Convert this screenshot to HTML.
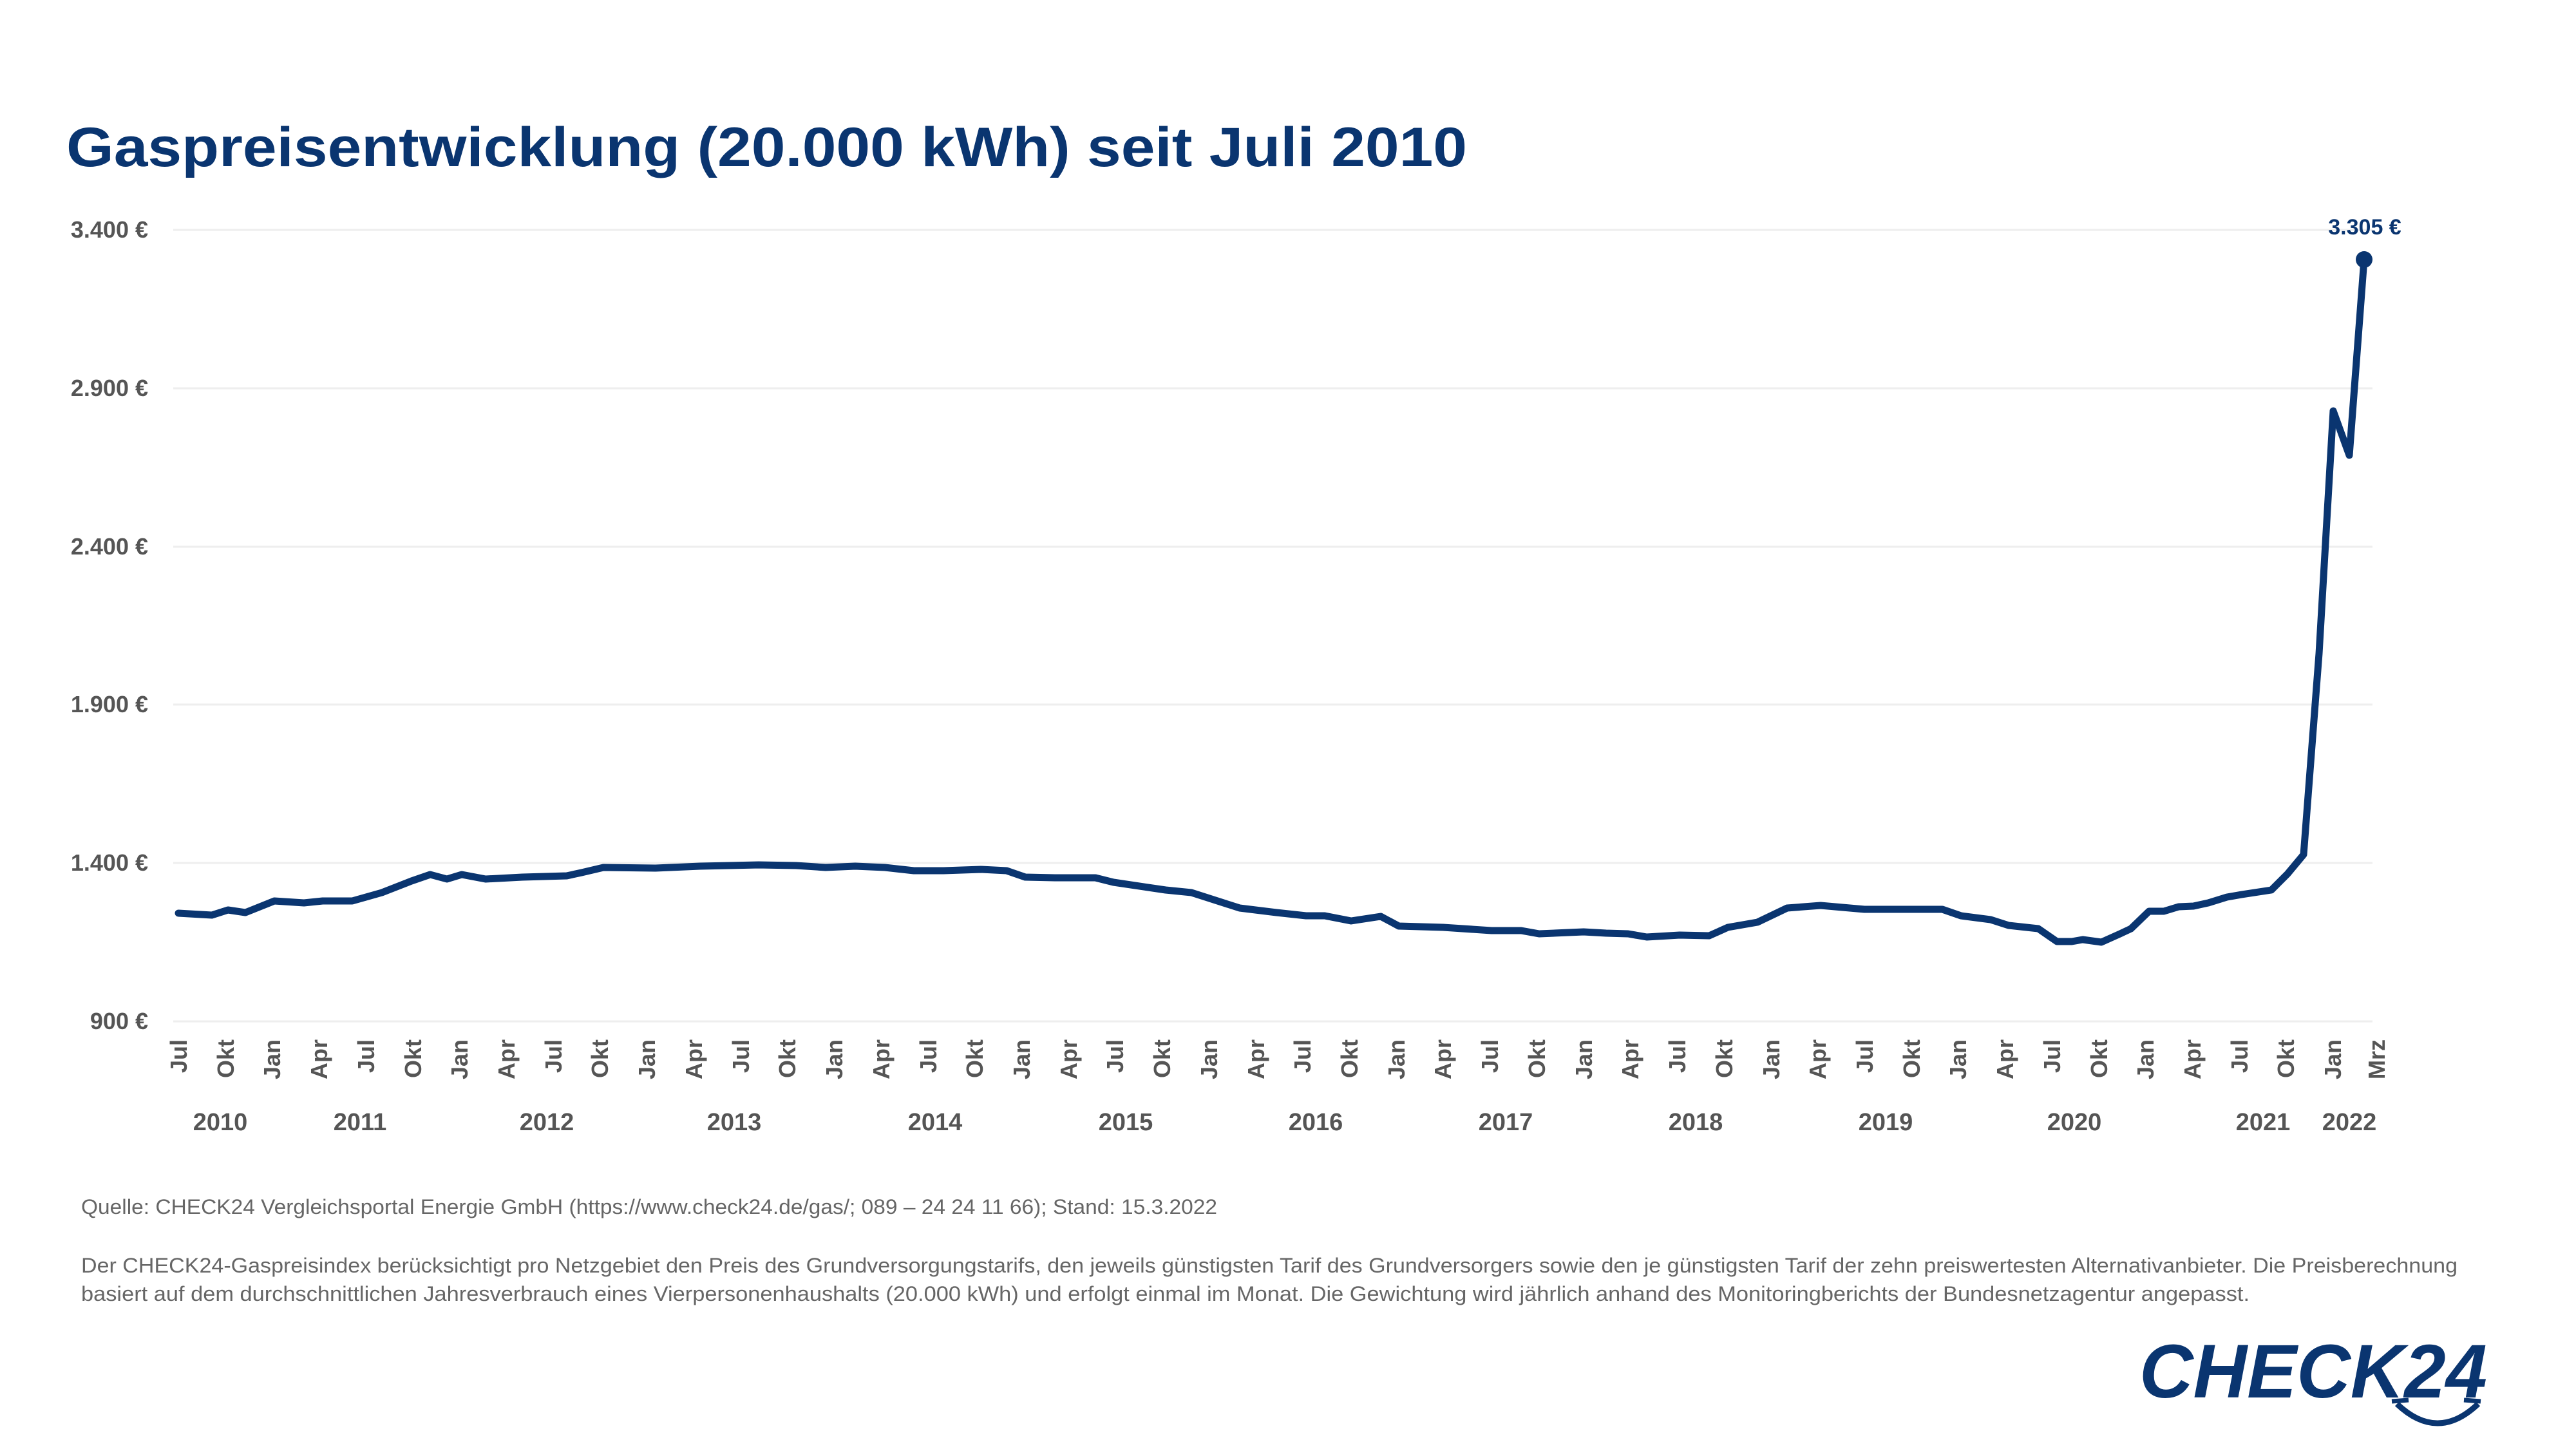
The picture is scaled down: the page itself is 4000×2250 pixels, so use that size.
<!DOCTYPE html>
<html><head><meta charset="utf-8"><style>
html,body{margin:0;padding:0;background:#fff;}
svg{display:block;}
text{font-family:"Liberation Sans",sans-serif;}
</style></head><body>
<svg width="4000" height="2250" viewBox="0 0 4000 2250" xmlns="http://www.w3.org/2000/svg">
<rect width="4000" height="2250" fill="#fff"/>
<text x="103" y="258" font-size="86" font-weight="bold" fill="#0a3570" textLength="2175" lengthAdjust="spacingAndGlyphs">Gaspreisentwicklung (20.000 kWh) seit Juli 2010</text>
<g stroke="#eeeeee" stroke-width="3">
<line x1="269" y1="357" x2="3684" y2="357"/>
<line x1="269" y1="603" x2="3684" y2="603"/>
<line x1="269" y1="849" x2="3684" y2="849"/>
<line x1="269" y1="1094" x2="3684" y2="1094"/>
<line x1="269" y1="1340" x2="3684" y2="1340"/>
<line x1="269" y1="1586" x2="3684" y2="1586"/>
</g>
<g font-size="36" font-weight="bold" fill="#555" text-anchor="end">
<text x="230" y="369">3.400 €</text>
<text x="230" y="615">2.900 €</text>
<text x="230" y="861">2.400 €</text>
<text x="230" y="1106">1.900 €</text>
<text x="230" y="1352">1.400 €</text>
<text x="230" y="1598">900 €</text>
</g>
<polyline fill="none" stroke="#0a3570" stroke-width="11" stroke-linejoin="round" stroke-linecap="round" points="277,1418 329,1421 354,1413 381,1417 426,1399 472,1402 501,1399 547,1399 593,1386 639,1368 668,1358 694,1365 717,1358 754,1365 811,1362 880,1360 903,1355 937,1347 1018,1348 1087,1345 1178,1343 1236,1344 1282,1347 1328,1345 1374,1347 1419,1352 1465,1352 1523,1350 1563,1352 1592,1362 1638,1363 1701,1363 1729,1370 1810,1382 1850,1386 1925,1410 1982,1417 2028,1422 2057,1422 2098,1430 2144,1423 2172,1438 2241,1440 2316,1445 2362,1445 2390,1450 2459,1447 2494,1449 2528,1450 2557,1455 2608,1452 2654,1453 2683,1440 2729,1432 2775,1410 2827,1406 2895,1412 2953,1412 3016,1412 3045,1422 3091,1428 3119,1437 3165,1442 3194,1462 3217,1462 3234,1459 3263,1463 3292,1450 3309,1442 3337,1415 3360,1415 3383,1408 3406,1407 3429,1402 3458,1393 3481,1389 3527,1382 3552,1357 3577,1327 3601,1015 3623,638 3648,707 3671,403"/>
<circle cx="3671" cy="403" r="13" fill="#0a3570"/>
<text x="3672" y="364" font-size="34" font-weight="bold" fill="#0a3570" text-anchor="middle">3.305 €</text>
<g font-size="36" font-weight="bold" fill="#555" text-anchor="end">
<text transform="translate(277,1614) rotate(-90)" dy="0.36em">Jul</text>
<text transform="translate(350,1614) rotate(-90)" dy="0.36em">Okt</text>
<text transform="translate(422,1614) rotate(-90)" dy="0.36em">Jan</text>
<text transform="translate(495,1614) rotate(-90)" dy="0.36em">Apr</text>
<text transform="translate(568,1614) rotate(-90)" dy="0.36em">Jul</text>
<text transform="translate(641,1614) rotate(-90)" dy="0.36em">Okt</text>
<text transform="translate(713,1614) rotate(-90)" dy="0.36em">Jan</text>
<text transform="translate(786,1614) rotate(-90)" dy="0.36em">Apr</text>
<text transform="translate(859,1614) rotate(-90)" dy="0.36em">Jul</text>
<text transform="translate(931,1614) rotate(-90)" dy="0.36em">Okt</text>
<text transform="translate(1004,1614) rotate(-90)" dy="0.36em">Jan</text>
<text transform="translate(1077,1614) rotate(-90)" dy="0.36em">Apr</text>
<text transform="translate(1150,1614) rotate(-90)" dy="0.36em">Jul</text>
<text transform="translate(1222,1614) rotate(-90)" dy="0.36em">Okt</text>
<text transform="translate(1295,1614) rotate(-90)" dy="0.36em">Jan</text>
<text transform="translate(1368,1614) rotate(-90)" dy="0.36em">Apr</text>
<text transform="translate(1441,1614) rotate(-90)" dy="0.36em">Jul</text>
<text transform="translate(1513,1614) rotate(-90)" dy="0.36em">Okt</text>
<text transform="translate(1586,1614) rotate(-90)" dy="0.36em">Jan</text>
<text transform="translate(1659,1614) rotate(-90)" dy="0.36em">Apr</text>
<text transform="translate(1731,1614) rotate(-90)" dy="0.36em">Jul</text>
<text transform="translate(1804,1614) rotate(-90)" dy="0.36em">Okt</text>
<text transform="translate(1877,1614) rotate(-90)" dy="0.36em">Jan</text>
<text transform="translate(1950,1614) rotate(-90)" dy="0.36em">Apr</text>
<text transform="translate(2022,1614) rotate(-90)" dy="0.36em">Jul</text>
<text transform="translate(2095,1614) rotate(-90)" dy="0.36em">Okt</text>
<text transform="translate(2168,1614) rotate(-90)" dy="0.36em">Jan</text>
<text transform="translate(2240,1614) rotate(-90)" dy="0.36em">Apr</text>
<text transform="translate(2313,1614) rotate(-90)" dy="0.36em">Jul</text>
<text transform="translate(2386,1614) rotate(-90)" dy="0.36em">Okt</text>
<text transform="translate(2459,1614) rotate(-90)" dy="0.36em">Jan</text>
<text transform="translate(2531,1614) rotate(-90)" dy="0.36em">Apr</text>
<text transform="translate(2604,1614) rotate(-90)" dy="0.36em">Jul</text>
<text transform="translate(2677,1614) rotate(-90)" dy="0.36em">Okt</text>
<text transform="translate(2750,1614) rotate(-90)" dy="0.36em">Jan</text>
<text transform="translate(2822,1614) rotate(-90)" dy="0.36em">Apr</text>
<text transform="translate(2895,1614) rotate(-90)" dy="0.36em">Jul</text>
<text transform="translate(2968,1614) rotate(-90)" dy="0.36em">Okt</text>
<text transform="translate(3040,1614) rotate(-90)" dy="0.36em">Jan</text>
<text transform="translate(3113,1614) rotate(-90)" dy="0.36em">Apr</text>
<text transform="translate(3186,1614) rotate(-90)" dy="0.36em">Jul</text>
<text transform="translate(3259,1614) rotate(-90)" dy="0.36em">Okt</text>
<text transform="translate(3331,1614) rotate(-90)" dy="0.36em">Jan</text>
<text transform="translate(3404,1614) rotate(-90)" dy="0.36em">Apr</text>
<text transform="translate(3477,1614) rotate(-90)" dy="0.36em">Jul</text>
<text transform="translate(3549,1614) rotate(-90)" dy="0.36em">Okt</text>
<text transform="translate(3622,1614) rotate(-90)" dy="0.36em">Jan</text>
<text transform="translate(3690,1614) rotate(-90)" dy="0.36em">Mrz</text>
</g>
<g font-size="38" font-weight="bold" fill="#555" text-anchor="middle">
<text x="342" y="1755">2010</text>
<text x="559" y="1755">2011</text>
<text x="849" y="1755">2012</text>
<text x="1140" y="1755">2013</text>
<text x="1452" y="1755">2014</text>
<text x="1748" y="1755">2015</text>
<text x="2043" y="1755">2016</text>
<text x="2338" y="1755">2017</text>
<text x="2633" y="1755">2018</text>
<text x="2928" y="1755">2019</text>
<text x="3221" y="1755">2020</text>
<text x="3514" y="1755">2021</text>
<text x="3648" y="1755">2022</text>
</g>
<g font-size="32" fill="#666">
<text x="126" y="1885" textLength="1764" lengthAdjust="spacingAndGlyphs">Quelle: CHECK24 Vergleichsportal Energie GmbH (https://www.check24.de/gas/; 089 – 24 24 11 66); Stand: 15.3.2022</text>
<text x="126" y="1976" textLength="3690" lengthAdjust="spacingAndGlyphs">Der CHECK24-Gaspreisindex berücksichtigt pro Netzgebiet den Preis des Grundversorgungstarifs, den jeweils günstigsten Tarif des Grundversorgers sowie den je günstigsten Tarif der zehn preiswertesten Alternativanbieter. Die Preisberechnung</text>
<text x="126" y="2020" textLength="3367" lengthAdjust="spacingAndGlyphs">basiert auf dem durchschnittlichen Jahresverbrauch eines Vierpersonenhaushalts (20.000 kWh) und erfolgt einmal im Monat. Die Gewichtung wird jährlich anhand des Monitoringberichts der Bundesnetzagentur angepasst.</text>
</g>
<text x="3322" y="2170" font-size="118" font-weight="bold" font-style="italic" fill="#0a3570" textLength="540" lengthAdjust="spacingAndGlyphs">CHECK24</text>
<path d="M3722,2180 Q3785,2240 3848,2180" fill="none" stroke="#0a3570" stroke-width="9"/>
<path d="M3714,2176 L3740,2174 M3852,2176 L3826,2174" stroke="#0a3570" stroke-width="7"/>
</svg>
</body></html>
